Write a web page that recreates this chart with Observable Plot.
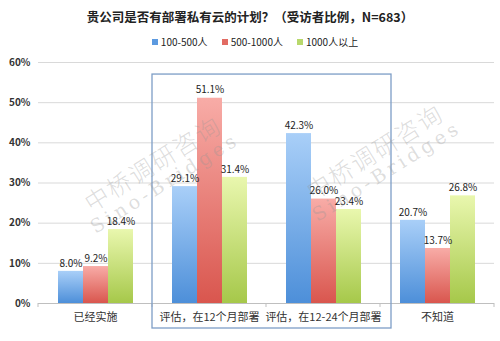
<!DOCTYPE html>
<html><head><meta charset="utf-8">
<script src="https://cdn.jsdelivr.net/npm/d3@7"></script>
<script src="https://cdn.jsdelivr.net/npm/@observablehq/plot@0.6"></script>
<style>
body{margin:0;background:#fff;font-family:"Noto Sans CJK SC","Noto Sans",sans-serif;}
#wrap{position:relative;width:500px;height:341px;overflow:hidden;background:#fff}
#title{height:30px;line-height:30px;text-align:center;font-size:12.5px;font-weight:bold;color:#222;padding-top:2px;box-sizing:border-box}
#legend{height:22px;display:flex;justify-content:center;align-items:center;gap:14px;font-size:10px;color:#222;padding-left:10px;box-sizing:border-box}
#legend span.sw{display:inline-block;width:6px;height:6px;margin-right:3px;vertical-align:middle;position:relative;top:-1px}
.wm{position:absolute;transform:translate(-50%,-50%) rotate(-32deg);color:rgba(150,150,150,0.32);text-align:center;pointer-events:none;white-space:nowrap;font-weight:300;line-height:1.1}
.wm .a{font-size:24px;letter-spacing:2px;font-family:"Noto Sans CJK SC",sans-serif}
.wm .b{font-size:19px;letter-spacing:4px;font-family:"DejaVu Serif",serif}
</style></head>
<body>
<div id="wrap">
<div id="title">贵公司是否有部署私有云的计划？（受访者比例，N=683）</div>
<div id="legend"></div>
<div id="chart"></div>
</div>
<script>
const categories = ["已经实施", "评估，在12个月部署", "评估，在12-24个月部署", "不知道"];
const series = ["100-500人", "500-1000人", "1000人以上"];
const values100_500 = [8.0, 29.1, 42.3, 20.7];
const values500_1000 = [9.2, 51.1, 26.0, 13.7];
const values1000plus = [18.4, 31.4, 23.4, 26.8];
const yTicks = [0, 10, 20, 30, 40, 50, 60];
const highlighted = ["评估，在12个月部署", "评估，在12-24个月部署"];

const seriesValues = [values100_500, values500_1000, values1000plus];
const gradStops = [["#a9cff8", "#4d8fd9"], ["#f8aca7", "#d9564e"], ["#e9f7ae", "#a6c84a"]];
const swatch = ["#5c9ae0", "#e26b63", "#b8d86c"];

const rows = [];
categories.forEach((c, i) => series.forEach((s, j) => rows.push({category: c, series: s, value: seriesValues[j][i]})));

// legend
const leg = document.getElementById("legend");
series.forEach((s, j) => {
  const it = document.createElement("div");
  it.innerHTML = `<span class="sw" style="background:${swatch[j]}"></span>${s}`;
  leg.appendChild(it);
});

const plot = Plot.plot({
  width: 500,
  height: 289,
  marginLeft: 36,
  marginRight: 5,
  marginTop: 10,
  marginBottom: 38,
  style: {fontFamily: "'Noto Sans CJK SC','Noto Sans',sans-serif", background: "#fff", overflow: "visible"},
  fx: {domain: categories, padding: 0, label: null, axis: null},
  x: {domain: series, paddingInner: 0, paddingOuter: 0.77, axis: null},
  y: {domain: [0, 60], ticks: yTicks, label: null, tickFormat: d => d + "%", tickSize: 0, tickPadding: 8},
  marks: [
    Plot.ruleY(yTicks.filter(d => d > 0), {stroke: "#d9d9d9", strokeWidth: 1}),
    Plot.axisY({ticks: yTicks, tickFormat: d => d + "%", tickSize: 0, tickPadding: 8, fontSize: 10, fontWeight: 600, fill: "#333", label: null}),
    ...series.map((s, j) => Plot.barY(rows.filter(r => r.series === s), {fx: "category", x: "series", y: "value", fill: `url(#grad${j})`})),
    Plot.ruleY([0], {stroke: "#bfbfbf", strokeWidth: 1}),
    Plot.text(rows, {fx: "category", x: "series", y: "value", text: d => d.value.toFixed(1) + "%", dy: -8, fontSize: 10, fill: "#222"}),
    Plot.axisFx({anchor: "bottom", tickSize: 0, tickPadding: 10, fontSize: 11, fill: "#333", label: null})
  ]
});

const svg = d3.select(plot);
const defs = svg.insert("defs", ":first-child");
gradStops.forEach((st, j) => {
  const g = defs.append("linearGradient").attr("id", "grad" + j).attr("x1", 0).attr("y1", 0).attr("x2", 0).attr("y2", 1);
  g.append("stop").attr("offset", "0%").attr("stop-color", st[0]);
  g.append("stop").attr("offset", "100%").attr("stop-color", st[1]);
});

// boundary ticks on the category axis and highlight box, positioned via the plot's scales
const fx = plot.scale("fx");
const y = plot.scale("y");
const y0 = y.apply(0);
const edges = categories.map(c => fx.apply(c)).concat([fx.apply(categories[categories.length - 1]) + fx.bandwidth]);
svg.append("g").selectAll("line").data(edges).join("line")
  .attr("x1", d => d).attr("x2", d => d).attr("y1", y0).attr("y2", y0 + 4)
  .attr("stroke", "#bfbfbf");
const bx0 = fx.apply(highlighted[0]);
const bx1 = fx.apply(highlighted[1]) + fx.bandwidth + 11;
const by0 = y.apply(57);
svg.append("rect").attr("x", bx0).attr("y", by0).attr("width", bx1 - bx0).attr("height", y0 + 25 - by0)
  .attr("fill", "none").attr("stroke", "#7d9dc6").attr("stroke-width", 1.3);

document.getElementById("chart").appendChild(plot);

// watermarks
const wrap = document.getElementById("wrap");
[[158, 172], [380, 160]].forEach(([cx, cy]) => {
  const d = document.createElement("div");
  d.className = "wm";
  d.style.left = cx + "px";
  d.style.top = cy + "px";
  d.innerHTML = '<div class="a">中桥调研咨询</div><div class="b">Sino-Bridges</div>';
  wrap.appendChild(d);
});
</script>
</body></html>
